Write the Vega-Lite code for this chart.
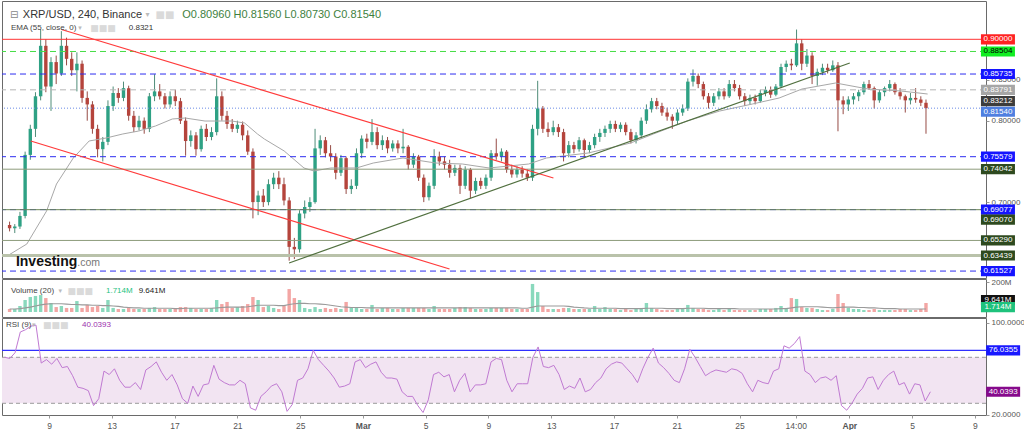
{
"$schema":"https://vega.github.io/schema/vega-lite/v6.json",
"padding":0,
"background":"#ffffff",
"spacing":1,
"bounds":"flush",
"config":{"view":{"stroke":"#6a6a6a","strokeWidth":1},"axis":{"grid":false,"domain":false,"labelFont":"Liberation Sans","labelFontSize":8,"labelColor":"#555555","tickColor":"#999999","tickSize":3,"labelPadding":2,"labelOverlap":false,"labelBound":false,"labelFlush":false},"text":{"font":"Liberation Sans"}},
"datasets":{
"c":[
{"t":"2022-02-06T04:00","o":0.672,"h":0.676,"l":0.664,"c":0.668,"v":20,"vm":20,"r":70},
{"t":"2022-02-06T12:00","o":0.668,"h":0.673,"l":0.662,"c":0.670,"v":20,"vm":20,"r":69},
{"t":"2022-02-06T20:00","o":0.670,"h":0.688,"l":0.667,"c":0.683,"v":40,"vm":22,"r":74},
{"t":"2022-02-07T04:00","o":0.683,"h":0.762,"l":0.680,"c":0.758,"v":80,"vm":27,"r":92},
{"t":"2022-02-07T12:00","o":0.758,"h":0.795,"l":0.752,"c":0.790,"v":100,"vm":33,"r":94},
{"t":"2022-02-07T20:00","o":0.790,"h":0.835,"l":0.780,"c":0.830,"v":107,"vm":40,"r":97},
{"t":"2022-02-08T04:00","o":0.830,"h":0.912,"l":0.825,"c":0.892,"v":113,"vm":47,"r":98},
{"t":"2022-02-08T12:00","o":0.892,"h":0.900,"l":0.835,"c":0.842,"v":93,"vm":53,"r":65},
{"t":"2022-02-08T20:00","o":0.842,"h":0.878,"l":0.812,"c":0.872,"v":60,"vm":55,"r":68},
{"t":"2022-02-09T04:00","o":0.872,"h":0.880,"l":0.845,"c":0.858,"v":33,"vm":55,"r":64},
{"t":"2022-02-09T12:00","o":0.858,"h":0.910,"l":0.855,"c":0.892,"v":40,"vm":55,"r":69},
{"t":"2022-02-09T20:00","o":0.892,"h":0.902,"l":0.868,"c":0.876,"v":27,"vm":53,"r":61},
{"t":"2022-02-10T04:00","o":0.876,"h":0.884,"l":0.855,"c":0.862,"v":27,"vm":50,"r":62},
{"t":"2022-02-10T12:00","o":0.862,"h":0.884,"l":0.836,"c":0.870,"v":73,"vm":50,"r":54},
{"t":"2022-02-10T20:00","o":0.870,"h":0.874,"l":0.822,"c":0.828,"v":27,"vm":48,"r":44},
{"t":"2022-02-11T04:00","o":0.828,"h":0.836,"l":0.800,"c":0.820,"v":47,"vm":47,"r":43},
{"t":"2022-02-11T12:00","o":0.820,"h":0.824,"l":0.784,"c":0.790,"v":33,"vm":45,"r":41},
{"t":"2022-02-11T20:00","o":0.790,"h":0.795,"l":0.755,"c":0.765,"v":40,"vm":45,"r":28},
{"t":"2022-02-12T04:00","o":0.765,"h":0.780,"l":0.750,"c":0.774,"v":27,"vm":43,"r":34},
{"t":"2022-02-12T12:00","o":0.774,"h":0.825,"l":0.770,"c":0.818,"v":80,"vm":43,"r":58},
{"t":"2022-02-12T20:00","o":0.818,"h":0.842,"l":0.812,"c":0.834,"v":27,"vm":40,"r":55},
{"t":"2022-02-13T04:00","o":0.834,"h":0.840,"l":0.822,"c":0.828,"v":20,"vm":37,"r":60},
{"t":"2022-02-13T12:00","o":0.828,"h":0.848,"l":0.824,"c":0.840,"v":20,"vm":33,"r":50},
{"t":"2022-02-13T20:00","o":0.840,"h":0.843,"l":0.800,"c":0.806,"v":27,"vm":30,"r":44},
{"t":"2022-02-14T04:00","o":0.806,"h":0.812,"l":0.786,"c":0.792,"v":20,"vm":27,"r":44},
{"t":"2022-02-14T12:00","o":0.792,"h":0.806,"l":0.788,"c":0.800,"v":20,"vm":27,"r":48},
{"t":"2022-02-14T20:00","o":0.800,"h":0.804,"l":0.784,"c":0.790,"v":20,"vm":25,"r":42},
{"t":"2022-02-15T04:00","o":0.790,"h":0.834,"l":0.786,"c":0.830,"v":27,"vm":25,"r":59},
{"t":"2022-02-15T12:00","o":0.830,"h":0.857,"l":0.824,"c":0.836,"v":33,"vm":25,"r":62},
{"t":"2022-02-15T20:00","o":0.836,"h":0.845,"l":0.826,"c":0.830,"v":20,"vm":25,"r":66},
{"t":"2022-02-16T04:00","o":0.830,"h":0.834,"l":0.815,"c":0.820,"v":20,"vm":25,"r":57},
{"t":"2022-02-16T12:00","o":0.820,"h":0.836,"l":0.816,"c":0.830,"v":20,"vm":25,"r":50},
{"t":"2022-02-16T20:00","o":0.830,"h":0.838,"l":0.818,"c":0.824,"v":20,"vm":23,"r":55},
{"t":"2022-02-17T04:00","o":0.824,"h":0.828,"l":0.796,"c":0.800,"v":33,"vm":23,"r":46},
{"t":"2022-02-17T12:00","o":0.800,"h":0.804,"l":0.757,"c":0.775,"v":33,"vm":25,"r":34},
{"t":"2022-02-17T20:00","o":0.775,"h":0.788,"l":0.768,"c":0.782,"v":27,"vm":25,"r":30},
{"t":"2022-02-18T04:00","o":0.782,"h":0.786,"l":0.757,"c":0.765,"v":20,"vm":25,"r":45},
{"t":"2022-02-18T12:00","o":0.765,"h":0.794,"l":0.762,"c":0.790,"v":20,"vm":25,"r":36},
{"t":"2022-02-18T20:00","o":0.790,"h":0.796,"l":0.775,"c":0.780,"v":20,"vm":25,"r":46},
{"t":"2022-02-19T04:00","o":0.780,"h":0.792,"l":0.776,"c":0.786,"v":27,"vm":25,"r":47},
{"t":"2022-02-19T12:00","o":0.786,"h":0.852,"l":0.782,"c":0.830,"v":80,"vm":27,"r":63},
{"t":"2022-02-19T20:00","o":0.830,"h":0.836,"l":0.800,"c":0.806,"v":53,"vm":30,"r":51},
{"t":"2022-02-20T04:00","o":0.806,"h":0.812,"l":0.790,"c":0.796,"v":67,"vm":33,"r":48},
{"t":"2022-02-20T12:00","o":0.796,"h":0.802,"l":0.786,"c":0.790,"v":27,"vm":33,"r":46},
{"t":"2022-02-20T20:00","o":0.790,"h":0.800,"l":0.785,"c":0.795,"v":33,"vm":33,"r":46},
{"t":"2022-02-21T04:00","o":0.795,"h":0.799,"l":0.776,"c":0.782,"v":40,"vm":33,"r":50},
{"t":"2022-02-21T12:00","o":0.782,"h":0.788,"l":0.758,"c":0.762,"v":53,"vm":35,"r":47},
{"t":"2022-02-21T20:00","o":0.762,"h":0.766,"l":0.680,"c":0.700,"v":100,"vm":40,"r":26},
{"t":"2022-02-22T04:00","o":0.700,"h":0.714,"l":0.684,"c":0.708,"v":80,"vm":45,"r":24},
{"t":"2022-02-22T12:00","o":0.708,"h":0.716,"l":0.694,"c":0.700,"v":33,"vm":45,"r":36},
{"t":"2022-02-22T20:00","o":0.700,"h":0.728,"l":0.696,"c":0.722,"v":40,"vm":45,"r":40},
{"t":"2022-02-23T04:00","o":0.722,"h":0.736,"l":0.716,"c":0.730,"v":27,"vm":45,"r":45},
{"t":"2022-02-23T12:00","o":0.730,"h":0.738,"l":0.716,"c":0.722,"v":20,"vm":43,"r":47},
{"t":"2022-02-23T20:00","o":0.722,"h":0.730,"l":0.696,"c":0.702,"v":40,"vm":43,"r":40},
{"t":"2022-02-24T04:00","o":0.702,"h":0.706,"l":0.628,"c":0.645,"v":153,"vm":50,"r":23},
{"t":"2022-02-24T12:00","o":0.645,"h":0.656,"l":0.630,"c":0.642,"v":93,"vm":55,"r":29},
{"t":"2022-02-24T20:00","o":0.642,"h":0.690,"l":0.638,"c":0.686,"v":80,"vm":57,"r":50},
{"t":"2022-02-25T04:00","o":0.686,"h":0.702,"l":0.680,"c":0.694,"v":27,"vm":57,"r":52},
{"t":"2022-02-25T12:00","o":0.694,"h":0.706,"l":0.688,"c":0.700,"v":20,"vm":55,"r":60},
{"t":"2022-02-25T20:00","o":0.700,"h":0.790,"l":0.698,"c":0.766,"v":33,"vm":55,"r":76},
{"t":"2022-02-26T04:00","o":0.766,"h":0.782,"l":0.758,"c":0.776,"v":20,"vm":53,"r":68},
{"t":"2022-02-26T12:00","o":0.776,"h":0.780,"l":0.755,"c":0.760,"v":27,"vm":50,"r":63},
{"t":"2022-02-26T20:00","o":0.760,"h":0.770,"l":0.750,"c":0.756,"v":20,"vm":45,"r":58},
{"t":"2022-02-27T04:00","o":0.756,"h":0.760,"l":0.728,"c":0.736,"v":27,"vm":40,"r":52},
{"t":"2022-02-27T12:00","o":0.736,"h":0.758,"l":0.732,"c":0.754,"v":20,"vm":35,"r":44},
{"t":"2022-02-27T20:00","o":0.754,"h":0.756,"l":0.710,"c":0.716,"v":67,"vm":33,"r":45},
{"t":"2022-02-28T04:00","o":0.716,"h":0.728,"l":0.710,"c":0.720,"v":27,"vm":30,"r":47},
{"t":"2022-02-28T12:00","o":0.720,"h":0.766,"l":0.716,"c":0.760,"v":33,"vm":30,"r":66},
{"t":"2022-02-28T20:00","o":0.760,"h":0.782,"l":0.754,"c":0.778,"v":20,"vm":30,"r":68},
{"t":"2022-03-01T04:00","o":0.778,"h":0.784,"l":0.766,"c":0.774,"v":20,"vm":28,"r":61},
{"t":"2022-03-01T12:00","o":0.774,"h":0.802,"l":0.770,"c":0.786,"v":47,"vm":28,"r":64},
{"t":"2022-03-01T20:00","o":0.786,"h":0.792,"l":0.765,"c":0.770,"v":20,"vm":28,"r":66},
{"t":"2022-03-02T04:00","o":0.770,"h":0.782,"l":0.764,"c":0.776,"v":27,"vm":27,"r":57},
{"t":"2022-03-02T12:00","o":0.776,"h":0.780,"l":0.760,"c":0.766,"v":27,"vm":27,"r":52},
{"t":"2022-03-02T20:00","o":0.766,"h":0.776,"l":0.762,"c":0.772,"v":20,"vm":27,"r":52},
{"t":"2022-03-03T04:00","o":0.772,"h":0.776,"l":0.760,"c":0.766,"v":20,"vm":27,"r":51},
{"t":"2022-03-03T12:00","o":0.766,"h":0.790,"l":0.760,"c":0.768,"v":27,"vm":27,"r":40},
{"t":"2022-03-03T20:00","o":0.768,"h":0.770,"l":0.740,"c":0.746,"v":27,"vm":27,"r":36},
{"t":"2022-03-04T04:00","o":0.746,"h":0.760,"l":0.742,"c":0.756,"v":27,"vm":27,"r":36},
{"t":"2022-03-04T12:00","o":0.756,"h":0.758,"l":0.726,"c":0.730,"v":27,"vm":27,"r":28},
{"t":"2022-03-04T20:00","o":0.730,"h":0.734,"l":0.700,"c":0.706,"v":27,"vm":27,"r":22},
{"t":"2022-03-05T04:00","o":0.706,"h":0.724,"l":0.702,"c":0.720,"v":20,"vm":27,"r":33},
{"t":"2022-03-05T12:00","o":0.720,"h":0.765,"l":0.716,"c":0.756,"v":40,"vm":27,"r":55},
{"t":"2022-03-05T20:00","o":0.756,"h":0.762,"l":0.745,"c":0.750,"v":20,"vm":27,"r":57},
{"t":"2022-03-06T04:00","o":0.750,"h":0.756,"l":0.740,"c":0.746,"v":20,"vm":27,"r":53},
{"t":"2022-03-06T12:00","o":0.746,"h":0.752,"l":0.730,"c":0.736,"v":20,"vm":27,"r":55},
{"t":"2022-03-06T20:00","o":0.736,"h":0.746,"l":0.732,"c":0.742,"v":27,"vm":27,"r":40},
{"t":"2022-03-07T04:00","o":0.742,"h":0.746,"l":0.710,"c":0.720,"v":33,"vm":27,"r":50},
{"t":"2022-03-07T12:00","o":0.720,"h":0.744,"l":0.716,"c":0.740,"v":33,"vm":27,"r":56},
{"t":"2022-03-07T20:00","o":0.740,"h":0.742,"l":0.705,"c":0.714,"v":27,"vm":27,"r":40},
{"t":"2022-03-08T04:00","o":0.714,"h":0.730,"l":0.710,"c":0.726,"v":20,"vm":27,"r":46},
{"t":"2022-03-08T12:00","o":0.726,"h":0.730,"l":0.716,"c":0.720,"v":20,"vm":27,"r":46},
{"t":"2022-03-08T20:00","o":0.720,"h":0.734,"l":0.716,"c":0.730,"v":20,"vm":27,"r":47},
{"t":"2022-03-09T04:00","o":0.730,"h":0.764,"l":0.726,"c":0.760,"v":27,"vm":27,"r":66},
{"t":"2022-03-09T12:00","o":0.760,"h":0.778,"l":0.752,"c":0.756,"v":27,"vm":27,"r":69},
{"t":"2022-03-09T20:00","o":0.756,"h":0.766,"l":0.750,"c":0.762,"v":27,"vm":27,"r":68},
{"t":"2022-03-10T04:00","o":0.762,"h":0.764,"l":0.736,"c":0.740,"v":27,"vm":27,"r":50},
{"t":"2022-03-10T12:00","o":0.740,"h":0.746,"l":0.730,"c":0.734,"v":20,"vm":27,"r":40},
{"t":"2022-03-10T20:00","o":0.734,"h":0.744,"l":0.730,"c":0.740,"v":20,"vm":27,"r":47},
{"t":"2022-03-11T04:00","o":0.740,"h":0.744,"l":0.730,"c":0.735,"v":20,"vm":25,"r":47},
{"t":"2022-03-11T12:00","o":0.735,"h":0.740,"l":0.726,"c":0.730,"v":20,"vm":25,"r":47},
{"t":"2022-03-11T20:00","o":0.730,"h":0.795,"l":0.726,"c":0.790,"v":187,"vm":33,"r":70},
{"t":"2022-03-12T04:00","o":0.790,"h":0.849,"l":0.782,"c":0.815,"v":133,"vm":40,"r":79},
{"t":"2022-03-12T12:00","o":0.815,"h":0.818,"l":0.785,"c":0.790,"v":40,"vm":40,"r":62},
{"t":"2022-03-12T20:00","o":0.790,"h":0.798,"l":0.780,"c":0.786,"v":20,"vm":40,"r":61},
{"t":"2022-03-13T04:00","o":0.786,"h":0.800,"l":0.782,"c":0.792,"v":20,"vm":40,"r":63},
{"t":"2022-03-13T12:00","o":0.792,"h":0.796,"l":0.780,"c":0.786,"v":20,"vm":40,"r":55},
{"t":"2022-03-13T20:00","o":0.786,"h":0.790,"l":0.750,"c":0.760,"v":27,"vm":40,"r":42},
{"t":"2022-03-14T04:00","o":0.760,"h":0.775,"l":0.755,"c":0.770,"v":27,"vm":37,"r":45},
{"t":"2022-03-14T12:00","o":0.770,"h":0.774,"l":0.760,"c":0.765,"v":20,"vm":33,"r":43},
{"t":"2022-03-14T20:00","o":0.765,"h":0.780,"l":0.762,"c":0.776,"v":20,"vm":30,"r":52},
{"t":"2022-03-15T04:00","o":0.776,"h":0.778,"l":0.755,"c":0.764,"v":20,"vm":27,"r":40},
{"t":"2022-03-15T12:00","o":0.764,"h":0.774,"l":0.760,"c":0.770,"v":20,"vm":25,"r":42},
{"t":"2022-03-15T20:00","o":0.770,"h":0.784,"l":0.766,"c":0.780,"v":40,"vm":25,"r":48},
{"t":"2022-03-16T04:00","o":0.780,"h":0.790,"l":0.774,"c":0.785,"v":20,"vm":25,"r":52},
{"t":"2022-03-16T12:00","o":0.785,"h":0.794,"l":0.780,"c":0.790,"v":33,"vm":25,"r":60},
{"t":"2022-03-16T20:00","o":0.790,"h":0.800,"l":0.785,"c":0.796,"v":20,"vm":25,"r":64},
{"t":"2022-03-17T04:00","o":0.796,"h":0.800,"l":0.786,"c":0.790,"v":20,"vm":25,"r":66},
{"t":"2022-03-17T12:00","o":0.790,"h":0.798,"l":0.786,"c":0.795,"v":13,"vm":23,"r":65},
{"t":"2022-03-17T20:00","o":0.795,"h":0.798,"l":0.782,"c":0.786,"v":20,"vm":23,"r":60},
{"t":"2022-03-18T04:00","o":0.786,"h":0.790,"l":0.772,"c":0.776,"v":13,"vm":23,"r":55},
{"t":"2022-03-18T12:00","o":0.776,"h":0.786,"l":0.772,"c":0.782,"v":20,"vm":23,"r":48},
{"t":"2022-03-18T20:00","o":0.782,"h":0.804,"l":0.778,"c":0.800,"v":27,"vm":23,"r":60},
{"t":"2022-03-19T04:00","o":0.800,"h":0.820,"l":0.796,"c":0.814,"v":60,"vm":25,"r":70},
{"t":"2022-03-19T12:00","o":0.814,"h":0.828,"l":0.810,"c":0.824,"v":27,"vm":25,"r":78},
{"t":"2022-03-19T20:00","o":0.824,"h":0.828,"l":0.814,"c":0.818,"v":20,"vm":25,"r":65},
{"t":"2022-03-20T04:00","o":0.818,"h":0.822,"l":0.806,"c":0.810,"v":13,"vm":25,"r":61},
{"t":"2022-03-20T12:00","o":0.810,"h":0.816,"l":0.800,"c":0.805,"v":13,"vm":23,"r":56},
{"t":"2022-03-20T20:00","o":0.805,"h":0.808,"l":0.790,"c":0.800,"v":13,"vm":23,"r":50},
{"t":"2022-03-21T04:00","o":0.800,"h":0.814,"l":0.796,"c":0.810,"v":20,"vm":23,"r":48},
{"t":"2022-03-21T12:00","o":0.810,"h":0.820,"l":0.806,"c":0.815,"v":20,"vm":23,"r":60},
{"t":"2022-03-21T20:00","o":0.815,"h":0.852,"l":0.812,"c":0.848,"v":47,"vm":25,"r":77},
{"t":"2022-03-22T04:00","o":0.848,"h":0.863,"l":0.842,"c":0.855,"v":27,"vm":25,"r":70},
{"t":"2022-03-22T12:00","o":0.855,"h":0.858,"l":0.840,"c":0.845,"v":20,"vm":25,"r":62},
{"t":"2022-03-22T20:00","o":0.845,"h":0.848,"l":0.826,"c":0.830,"v":20,"vm":25,"r":54},
{"t":"2022-03-23T04:00","o":0.830,"h":0.834,"l":0.815,"c":0.822,"v":13,"vm":23,"r":57},
{"t":"2022-03-23T12:00","o":0.822,"h":0.834,"l":0.818,"c":0.830,"v":13,"vm":23,"r":59},
{"t":"2022-03-23T20:00","o":0.830,"h":0.840,"l":0.826,"c":0.836,"v":20,"vm":23,"r":58},
{"t":"2022-03-24T04:00","o":0.836,"h":0.840,"l":0.826,"c":0.830,"v":13,"vm":22,"r":57},
{"t":"2022-03-24T12:00","o":0.830,"h":0.850,"l":0.828,"c":0.845,"v":20,"vm":22,"r":60},
{"t":"2022-03-24T20:00","o":0.845,"h":0.850,"l":0.836,"c":0.840,"v":13,"vm":22,"r":59},
{"t":"2022-03-25T04:00","o":0.840,"h":0.844,"l":0.826,"c":0.830,"v":13,"vm":20,"r":56},
{"t":"2022-03-25T12:00","o":0.830,"h":0.834,"l":0.818,"c":0.824,"v":13,"vm":20,"r":47},
{"t":"2022-03-25T20:00","o":0.824,"h":0.832,"l":0.820,"c":0.828,"v":13,"vm":20,"r":40},
{"t":"2022-03-26T04:00","o":0.828,"h":0.832,"l":0.820,"c":0.824,"v":13,"vm":20,"r":50},
{"t":"2022-03-26T12:00","o":0.824,"h":0.838,"l":0.822,"c":0.834,"v":20,"vm":20,"r":48},
{"t":"2022-03-26T20:00","o":0.834,"h":0.842,"l":0.830,"c":0.838,"v":20,"vm":20,"r":47},
{"t":"2022-03-27T04:00","o":0.838,"h":0.842,"l":0.828,"c":0.832,"v":20,"vm":20,"r":58},
{"t":"2022-03-27T12:00","o":0.832,"h":0.845,"l":0.830,"c":0.842,"v":27,"vm":20,"r":60},
{"t":"2022-03-27T20:00","o":0.842,"h":0.870,"l":0.840,"c":0.866,"v":40,"vm":22,"r":80},
{"t":"2022-03-28T04:00","o":0.866,"h":0.874,"l":0.860,"c":0.870,"v":27,"vm":23,"r":78},
{"t":"2022-03-28T12:00","o":0.870,"h":0.876,"l":0.862,"c":0.868,"v":93,"vm":27,"r":82},
{"t":"2022-03-28T20:00","o":0.868,"h":0.912,"l":0.866,"c":0.895,"v":87,"vm":33,"r":88},
{"t":"2022-03-29T04:00","o":0.895,"h":0.900,"l":0.862,"c":0.870,"v":33,"vm":35,"r":58},
{"t":"2022-03-29T12:00","o":0.870,"h":0.888,"l":0.866,"c":0.880,"v":27,"vm":35,"r":55},
{"t":"2022-03-29T20:00","o":0.880,"h":0.884,"l":0.845,"c":0.855,"v":27,"vm":35,"r":48},
{"t":"2022-03-30T04:00","o":0.855,"h":0.864,"l":0.843,"c":0.860,"v":20,"vm":35,"r":52},
{"t":"2022-03-30T12:00","o":0.860,"h":0.870,"l":0.856,"c":0.865,"v":13,"vm":33,"r":53},
{"t":"2022-03-30T20:00","o":0.865,"h":0.870,"l":0.858,"c":0.862,"v":13,"vm":30,"r":50},
{"t":"2022-03-31T04:00","o":0.862,"h":0.874,"l":0.860,"c":0.868,"v":20,"vm":27,"r":54},
{"t":"2022-03-31T12:00","o":0.868,"h":0.872,"l":0.787,"c":0.825,"v":120,"vm":30,"r":28},
{"t":"2022-03-31T20:00","o":0.825,"h":0.830,"l":0.808,"c":0.820,"v":60,"vm":33,"r":24},
{"t":"2022-04-01T04:00","o":0.820,"h":0.830,"l":0.812,"c":0.826,"v":27,"vm":33,"r":30},
{"t":"2022-04-01T12:00","o":0.826,"h":0.834,"l":0.820,"c":0.830,"v":20,"vm":33,"r":38},
{"t":"2022-04-01T20:00","o":0.830,"h":0.838,"l":0.824,"c":0.835,"v":20,"vm":30,"r":43},
{"t":"2022-04-02T04:00","o":0.835,"h":0.848,"l":0.832,"c":0.845,"v":13,"vm":30,"r":52},
{"t":"2022-04-02T12:00","o":0.845,"h":0.850,"l":0.838,"c":0.840,"v":13,"vm":28,"r":53},
{"t":"2022-04-02T20:00","o":0.840,"h":0.842,"l":0.815,"c":0.825,"v":20,"vm":27,"r":42},
{"t":"2022-04-03T04:00","o":0.825,"h":0.838,"l":0.822,"c":0.835,"v":13,"vm":25,"r":50},
{"t":"2022-04-03T12:00","o":0.835,"h":0.842,"l":0.830,"c":0.840,"v":13,"vm":23,"r":55},
{"t":"2022-04-03T20:00","o":0.840,"h":0.850,"l":0.836,"c":0.845,"v":13,"vm":22,"r":58},
{"t":"2022-04-04T04:00","o":0.845,"h":0.847,"l":0.832,"c":0.835,"v":13,"vm":22,"r":46},
{"t":"2022-04-04T12:00","o":0.835,"h":0.840,"l":0.826,"c":0.830,"v":20,"vm":20,"r":48},
{"t":"2022-04-04T20:00","o":0.830,"h":0.832,"l":0.810,"c":0.825,"v":20,"vm":20,"r":38},
{"t":"2022-04-05T04:00","o":0.825,"h":0.834,"l":0.820,"c":0.828,"v":13,"vm":20,"r":47},
{"t":"2022-04-05T12:00","o":0.828,"h":0.840,"l":0.822,"c":0.826,"v":13,"vm":20,"r":46},
{"t":"2022-04-05T20:00","o":0.826,"h":0.830,"l":0.818,"c":0.822,"v":20,"vm":20,"r":32},
{"t":"2022-04-06T04:00","o":0.822,"h":0.826,"l":0.784,"c":0.8154,"v":60,"vm":20,"r":40.0393}
],
"ema":[
{"t":"2022-02-06T00:00","p":0.6337},{"t":"2022-02-07T06:36","p":0.6485},{"t":"2022-02-08T13:11","p":0.6891},{"t":"2022-02-09T04:29","p":0.7222},{"t":"2022-02-10T06:29","p":0.7542},{"t":"2022-02-11T06:58","p":0.7751},{"t":"2022-02-12T08:57","p":0.7787},{"t":"2022-02-13T10:58","p":0.7837},{"t":"2022-02-14T11:27","p":0.7873},{"t":"2022-02-15T13:27","p":0.7935},{"t":"2022-02-16T15:27","p":0.8021},{"t":"2022-02-17T11:20","p":0.8033},{"t":"2022-02-18T17:56","p":0.7996},{"t":"2022-02-20T11:14","p":0.7996},{"t":"2022-02-21T07:06","p":0.7972},{"t":"2022-02-22T03:00","p":0.7837},{"t":"2022-02-22T13:42","p":0.7775},{"t":"2022-02-23T20:18","p":0.7628},{"t":"2022-02-25T02:53","p":0.7419},{"t":"2022-02-25T18:11","p":0.7382},{"t":"2022-02-26T20:11","p":0.7419},{"t":"2022-02-28T11:57","p":0.7419},{"t":"2022-03-01T13:58","p":0.748},{"t":"2022-03-03T11:51","p":0.7542},{"t":"2022-03-05T14:20","p":0.748},{"t":"2022-03-07T07:38","p":0.7468},{"t":"2022-03-09T00:56","p":0.7419},{"t":"2022-03-11T14:07","p":0.7468},{"t":"2022-03-12T17:38","p":0.7542},{"t":"2022-03-15T09:53","p":0.7603},{"t":"2022-03-18T03:40","p":0.7726},{"t":"2022-03-19T14:51","p":0.7837},{"t":"2022-03-21T18:52","p":0.7996},{"t":"2022-03-23T21:20","p":0.8119},{"t":"2022-03-25T23:48","p":0.8205},{"t":"2022-03-27T17:07","p":0.8279},{"t":"2022-03-29T04:18","p":0.8389},{"t":"2022-03-31T08:18","p":0.8463},{"t":"2022-04-02T10:47","p":0.8389},{"t":"2022-04-04T13:15","p":0.8365},{"t":"2022-04-06T06:33","p":0.8328}
],
"lv":[
{"v":0.9,"k":"red"},{"v":0.88504,"k":"lime"},{"v":0.85735,"k":"blue"},{"v":0.83791,"k":"gray"},{"v":0.83212,"k":"ema"},{"v":0.8154,"k":"price"},{"v":0.75579,"k":"blue"},{"v":0.74042,"k":"olive"},{"v":0.69077,"k":"blue"},{"v":0.6907,"k":"olivedk"},{"v":0.6529,"k":"olive"},{"v":0.63439,"k":"olivelt"},{"v":0.61527,"k":"blue"}
],
"tr":[
{"g":"a","t":"2022-02-09T12:07","p":0.912},{"g":"a","t":"2022-03-13T04:20","p":0.7296},
{"g":"b","t":"2022-02-07T12:43","p":0.7751},{"g":"b","t":"2022-03-06T11:46","p":0.6178},
{"g":"c","t":"2022-02-24T03:53","p":0.6252},{"g":"c","t":"2022-04-01T06:14","p":0.8709}
]
},
"vconcat":[
{
"width":984,"height":277,
"resolve":{"scale":{"color":"independent","strokeDash":"independent"}},
"layer":[
{"data":{"name":"c"},"mark":{"type":"rule","strokeWidth":1},
"encoding":{
"x":{"field":"t","type":"temporal","title":null,"scale":{"domain":[{"year":2022,"month":2,"date":6},{"year":2022,"month":4,"date":9,"hours":17}]},"axis":null},
"y":{"field":"l","type":"quantitative","title":null,"scale":{"domain":[0.60676,0.94705],"nice":false,"zero":false},"axis":{"orient":"right","values":[0.7,0.8,0.85],"format":".5f","title":null}},
"y2":{"field":"h"},
"color":{"condition":{"test":"datum.c>=datum.o","value":"#4f8c78"},"value":"#964b45"}}},
{"data":{"name":"c"},"mark":{"type":"bar","width":3.4},
"encoding":{"x":{"field":"t","type":"temporal","title":null},"y":{"field":"o","type":"quantitative","title":null},"y2":{"field":"c"},
"color":{"condition":{"test":"datum.c>=datum.o","value":"#2ea184"},"value":"#b5443c"}}},
{"data":{"name":"ema"},"mark":{"type":"line","color":"#a8a8a8","strokeWidth":1},"encoding":{"x":{"field":"t","type":"temporal","title":null},"y":{"field":"p","type":"quantitative","title":null}}},
{"data":{"name":"lv"},"transform":[{"filter":"datum.k!='ema' && datum.k!='olivelt'"}],"mark":{"type":"rule","strokeWidth":1},
"encoding":{"y":{"field":"v","type":"quantitative","title":null},
"color":{"field":"k","type":"nominal","legend":null,"scale":{"domain":["red","lime","blue","gray","price","olive","olivedk"],"range":["#ff3333","#44dd44","#2d2df0","#b5b5b5","#6a8ae6","#8d9c7c","#6d8858"]}},
"strokeDash":{"field":"k","type":"nominal","legend":null,"scale":{"domain":["red","lime","blue","gray","price","olive","olivedk"],"range":[[1,0],[6,4],[6,4],[6,4],[1,2],[1,0],[1,0]]}}}},
{"data":{"name":"lv"},"transform":[{"filter":"datum.k=='olivelt'"}],"mark":{"type":"rule","strokeWidth":3,"color":"#b9c2aa"},"encoding":{"y":{"field":"v","type":"quantitative","title":null}}},
{"data":{"name":"tr"},"transform":[{"filter":"datum.g!='c'"}],"mark":{"type":"line","color":"#ff3b3b","strokeWidth":1.2},"encoding":{"x":{"field":"t","type":"temporal","title":null},"y":{"field":"p","type":"quantitative","title":null},"detail":{"field":"g"}}},
{"data":{"name":"tr"},"transform":[{"filter":"datum.g=='c'"}],"mark":{"type":"line","color":"#51703f","strokeWidth":1.2},"encoding":{"x":{"field":"t","type":"temporal","title":null},"y":{"field":"p","type":"quantitative","title":null}}},
{"data":{"name":"lv"},"transform":[{"filter":"datum.k!='ema' && datum.k!='price' && datum.k!='olivedk'"}],"mark":{"type":"point","shape":"M-1,-0.3H1V0.3H-1Z","size":1156,"filled":true,"opacity":1,"strokeWidth":0},
"encoding":{"x":{"datum":{"year":2022,"month":4,"date":10,"hours":19,"minutes":12},"type":"temporal"},"y":{"field":"v","type":"quantitative","title":null},
"color":{"field":"k","type":"nominal","legend":null,"scale":{"domain":["red","lime","blue","gray","olive","olivelt"],"range":["#ff2222","#11ee22","#1414ff","#a6a6a6","#2e4a1f","#2e4a1f"]}}}},
{"data":{"name":"lv"},"transform":[{"filter":"datum.k!='ema' && datum.k!='price' && datum.k!='olivedk'"}],"mark":{"type":"text","fontSize":8,"align":"center","baseline":"middle"},
"encoding":{"x":{"datum":{"year":2022,"month":4,"date":10,"hours":19,"minutes":12},"type":"temporal"},"y":{"field":"v","type":"quantitative","title":null},"text":{"field":"v","type":"quantitative","format":".5f"},
"color":{"field":"k","type":"nominal","legend":null,"scale":{"domain":["red","lime","blue","gray","olive","olivelt"],"range":["#ffffff","#000000","#ffffff","#ffffff","#ffffff","#ffffff"]}}}},
{"data":{"name":"lv"},"transform":[{"filter":"datum.k=='ema'"}],"mark":{"type":"point","shape":"M-1,-0.3H1V0.3H-1Z","size":1156,"filled":true,"opacity":1,"strokeWidth":0,"color":"#3c3c3c","yOffset":6.5},
"encoding":{"x":{"datum":{"year":2022,"month":4,"date":10,"hours":19,"minutes":12},"type":"temporal"},"y":{"field":"v","type":"quantitative","title":null}}},
{"data":{"name":"lv"},"transform":[{"filter":"datum.k=='ema'"}],"mark":{"type":"text","fontSize":8,"align":"center","baseline":"middle","color":"#ffffff","yOffset":6.5},
"encoding":{"x":{"datum":{"year":2022,"month":4,"date":10,"hours":19,"minutes":12},"type":"temporal"},"y":{"field":"v","type":"quantitative","title":null},"text":{"field":"v","type":"quantitative","format":".5f"}}},
{"data":{"name":"lv"},"transform":[{"filter":"datum.k=='price'"}],"mark":{"type":"point","shape":"M-1,-0.3H1V0.3H-1Z","size":1156,"filled":true,"opacity":1,"strokeWidth":0,"color":"#4f7fe0","yOffset":3.6},
"encoding":{"x":{"datum":{"year":2022,"month":4,"date":10,"hours":19,"minutes":12},"type":"temporal"},"y":{"field":"v","type":"quantitative","title":null}}},
{"data":{"name":"lv"},"transform":[{"filter":"datum.k=='price'"}],"mark":{"type":"text","fontSize":8,"align":"center","baseline":"middle","color":"#ffffff","yOffset":3.6},
"encoding":{"x":{"datum":{"year":2022,"month":4,"date":10,"hours":19,"minutes":12},"type":"temporal"},"y":{"field":"v","type":"quantitative","title":null},"text":{"field":"v","type":"quantitative","format":".5f"}}},
{"data":{"name":"lv"},"transform":[{"filter":"datum.k=='olivedk'"}],"mark":{"type":"point","shape":"M-1,-0.3H1V0.3H-1Z","size":1156,"filled":true,"opacity":1,"strokeWidth":0,"color":"#2e4a1f","yOffset":10},
"encoding":{"x":{"datum":{"year":2022,"month":4,"date":10,"hours":19,"minutes":12},"type":"temporal"},"y":{"field":"v","type":"quantitative","title":null}}},
{"data":{"name":"lv"},"transform":[{"filter":"datum.k=='olivedk'"}],"mark":{"type":"text","fontSize":8,"align":"center","baseline":"middle","color":"#ffffff","yOffset":10},
"encoding":{"x":{"datum":{"year":2022,"month":4,"date":10,"hours":19,"minutes":12},"type":"temporal"},"y":{"field":"v","type":"quantitative","title":null},"text":{"field":"v","type":"quantitative","format":".5f"}}},
{"data":{"values":[{}]},"mark":{"type":"text","align":"left","baseline":"middle","font":"DejaVu Sans","fontSize":10,"color":"#888888"},"encoding":{"x":{"datum":{"year":2022,"month":2,"date":6,"hours":4,"minutes":35},"type":"temporal"},"y":{"datum":0.92985,"type":"quantitative"},"text":{"value":"⊟"}}},
{"data":{"values":[{}]},"mark":{"type":"text","align":"left","baseline":"middle","fontSize":11,"color":"#333333"},"encoding":{"x":{"datum":{"year":2022,"month":2,"date":7,"hours":0,"minutes":28},"type":"temporal"},"y":{"datum":0.92985,"type":"quantitative"},"text":{"value":"XRP/USD, 240, Binance"}}},
{"data":{"values":[{}]},"mark":{"type":"text","align":"left","baseline":"middle","font":"DejaVu Sans","fontSize":8,"color":"#bbbbbb"},"encoding":{"x":{"datum":{"year":2022,"month":2,"date":14,"hours":22,"minutes":9},"type":"temporal"},"y":{"datum":0.92985,"type":"quantitative"},"text":{"value":"▾"}}},
{"data":{"values":[{}]},"mark":{"type":"text","align":"left","baseline":"middle","font":"DejaVu Sans","fontSize":10,"color":"#dadada"},"encoding":{"x":{"datum":{"year":2022,"month":2,"date":15,"hours":13,"minutes":26},"type":"temporal"},"y":{"datum":0.92985,"type":"quantitative"},"text":{"value":"■■"}}},
{"data":{"values":[{}]},"mark":{"type":"text","align":"left","baseline":"middle","fontSize":11,"color":"#3e7f3e"},"encoding":{"x":{"datum":{"year":2022,"month":2,"date":17,"hours":6,"minutes":45},"type":"temporal"},"y":{"datum":0.92985,"type":"quantitative"},"text":{"value":"O0.80960 H0.81560 L0.80730 C0.81540"}}},
{"data":{"values":[{}]},"mark":{"type":"text","align":"left","baseline":"middle","fontSize":8,"color":"#444444"},"encoding":{"x":{"datum":{"year":2022,"month":2,"date":6,"hours":6,"minutes":7},"type":"temporal"},"y":{"datum":0.91327,"type":"quantitative"},"text":{"value":"EMA (55, close, 0)"}}},
{"data":{"values":[{}]},"mark":{"type":"text","align":"left","baseline":"middle","font":"DejaVu Sans","fontSize":7,"color":"#bbbbbb"},"encoding":{"x":{"datum":{"year":2022,"month":2,"date":10,"hours":14,"minutes":8},"type":"temporal"},"y":{"datum":0.91327,"type":"quantitative"},"text":{"value":"▾"}}},
{"data":{"values":[{}]},"mark":{"type":"text","align":"left","baseline":"middle","font":"DejaVu Sans","fontSize":9,"color":"#dadada"},"encoding":{"x":{"datum":{"year":2022,"month":2,"date":11,"hours":8,"minutes":30},"type":"temporal"},"y":{"datum":0.91327,"type":"quantitative"},"text":{"value":"■■■"}}},
{"data":{"values":[{}]},"mark":{"type":"text","align":"left","baseline":"middle","fontSize":8,"color":"#333333"},"encoding":{"x":{"datum":{"year":2022,"month":2,"date":13,"hours":20,"minutes":9},"type":"temporal"},"y":{"datum":0.91327,"type":"quantitative"},"text":{"value":"0.8321"}}},
{"data":{"values":[{}]},"mark":{"type":"text","align":"left","baseline":"alphabetic","fontSize":14,"fontWeight":"bold","color":"#111111"},"encoding":{"x":{"datum":{"year":2022,"month":2,"date":6,"hours":13,"minutes":46},"type":"temporal"},"y":{"datum":0.6215,"type":"quantitative"},"text":{"value":"Investing"}}},
{"data":{"values":[{}]},"mark":{"type":"text","align":"left","baseline":"alphabetic","fontSize":10.5,"color":"#777777"},"encoding":{"x":{"datum":{"year":2022,"month":2,"date":10,"hours":12,"minutes":36},"type":"temporal"},"y":{"datum":0.6215,"type":"quantitative"},"text":{"value":".com"}}}
]
},
{
"width":984,"height":38,
"layer":[
{"data":{"name":"c"},"mark":{"type":"bar","width":3.4},
"encoding":{"x":{"field":"t","type":"temporal","title":null,"scale":{"domain":[{"year":2022,"month":2,"date":6},{"year":2022,"month":4,"date":9,"hours":17}]},"axis":null},
"y":{"field":"v","type":"quantitative","title":null,"scale":{"domain":[-33.3,220],"nice":false,"zero":false},"axis":{"orient":"right","values":[200],"labelExpr":"'200M'","title":null}},
"y2":{"datum":0},
"color":{"condition":{"test":"datum.c>=datum.o","value":"#8ad9bd"},"value":"#f3a6a4"}}},
{"data":{"name":"c"},"mark":{"type":"line","color":"#9a9a9a","strokeWidth":1.2},"encoding":{"x":{"field":"t","type":"temporal","title":null},"y":{"field":"vm","type":"quantitative","title":null}}},
{"data":{"values":[{}]},"mark":{"type":"point","shape":"M-1,-0.3H1V0.3H-1Z","size":1156,"filled":true,"opacity":1,"strokeWidth":0,"color":"#111111"},"encoding":{"x":{"datum":{"year":2022,"month":4,"date":10,"hours":19,"minutes":12},"type":"temporal"},"y":{"datum":80,"type":"quantitative"}}},
{"data":{"values":[{}]},"mark":{"type":"text","fontSize":8,"align":"center","baseline":"middle","color":"#ffffff"},"encoding":{"x":{"datum":{"year":2022,"month":4,"date":10,"hours":19,"minutes":12},"type":"temporal"},"y":{"datum":80,"type":"quantitative"},"text":{"value":"9.641M"}}},
{"data":{"values":[{}]},"mark":{"type":"point","shape":"M-1,-0.3H1V0.3H-1Z","size":1156,"filled":true,"opacity":1,"strokeWidth":0,"color":"#1ec27c"},"encoding":{"x":{"datum":{"year":2022,"month":4,"date":10,"hours":19,"minutes":12},"type":"temporal"},"y":{"datum":33,"type":"quantitative"}}},
{"data":{"values":[{}]},"mark":{"type":"text","fontSize":8,"align":"center","baseline":"middle","color":"#ffffff"},"encoding":{"x":{"datum":{"year":2022,"month":4,"date":10,"hours":19,"minutes":12},"type":"temporal"},"y":{"datum":33,"type":"quantitative"},"text":{"value":"1.714M"}}},
{"data":{"values":[{}]},"mark":{"type":"text","align":"left","baseline":"middle","fontSize":8,"color":"#444444"},"encoding":{"x":{"datum":{"year":2022,"month":2,"date":6,"hours":6,"minutes":7},"type":"temporal"},"y":{"datum":140,"type":"quantitative"},"text":{"value":"Volume (20)"}}},
{"data":{"values":[{}]},"mark":{"type":"text","align":"left","baseline":"middle","font":"DejaVu Sans","fontSize":7,"color":"#bbbbbb"},"encoding":{"x":{"datum":{"year":2022,"month":2,"date":9,"hours":7,"minutes":32},"type":"temporal"},"y":{"datum":140,"type":"quantitative"},"text":{"value":"▾"}}},
{"data":{"values":[{}]},"mark":{"type":"text","align":"left","baseline":"middle","font":"DejaVu Sans","fontSize":9,"color":"#dadada"},"encoding":{"x":{"datum":{"year":2022,"month":2,"date":9,"hours":21,"minutes":18},"type":"temporal"},"y":{"datum":140,"type":"quantitative"},"text":{"value":"■■■"}}},
{"data":{"values":[{}]},"mark":{"type":"text","align":"left","baseline":"middle","fontSize":8,"color":"#26c281"},"encoding":{"x":{"datum":{"year":2022,"month":2,"date":12,"hours":8,"minutes":57},"type":"temporal"},"y":{"datum":140,"type":"quantitative"},"text":{"value":"1.714M"}}},
{"data":{"values":[{}]},"mark":{"type":"text","align":"left","baseline":"middle","fontSize":8,"color":"#222222"},"encoding":{"x":{"datum":{"year":2022,"month":2,"date":14,"hours":11,"minutes":27},"type":"temporal"},"y":{"datum":140,"type":"quantitative"},"text":{"value":"9.641M"}}}
]
},
{
"width":984,"height":97,
"layer":[
{"data":{"values":[{}]},"mark":{"type":"rect","color":"#f2e4f2"},
"encoding":{
"x":{"datum":{"year":2022,"month":2,"date":6},"type":"temporal","title":null,"scale":{"domain":[{"year":2022,"month":2,"date":6},{"year":2022,"month":4,"date":9,"hours":17}]},
"axis":{"orient":"bottom","title":null,"tickSize":3,"labelPadding":3,"labelFontSize":8.5,"values":[{"year":2022,"month":2,"date":9},{"year":2022,"month":2,"date":13},{"year":2022,"month":2,"date":17},{"year":2022,"month":2,"date":21},{"year":2022,"month":2,"date":25},{"year":2022,"month":3,"date":1},{"year":2022,"month":3,"date":5},{"year":2022,"month":3,"date":9},{"year":2022,"month":3,"date":13},{"year":2022,"month":3,"date":17},{"year":2022,"month":3,"date":21},{"year":2022,"month":3,"date":25},{"year":2022,"month":3,"date":28,"hours":14},{"year":2022,"month":4,"date":1},{"year":2022,"month":4,"date":5},{"year":2022,"month":4,"date":9}],
"labelExpr":"hours(datum.value)==14 ? '14:00' : (date(datum.value)==1 ? timeFormat(datum.value,'%b') : timeFormat(datum.value,'%-d'))",
"labelFontWeight":{"condition":{"test":"date(datum.value)==1 && hours(datum.value)==0","value":"bold"},"value":"normal"}}},
"x2":{"datum":{"year":2022,"month":4,"date":9,"hours":17}},
"y":{"datum":70,"type":"quantitative","title":null,"scale":{"domain":[19.83,104.17],"nice":false,"zero":false},"axis":{"orient":"right","values":[20,60,80,100],"format":".4f","title":null}},
"y2":{"datum":30}}},
{"data":{"values":[{}]},"mark":{"type":"rule","color":"#9a9a9a","strokeDash":[4,3]},"encoding":{"y":{"datum":70,"type":"quantitative"}}},
{"data":{"values":[{}]},"mark":{"type":"rule","color":"#9a9a9a","strokeDash":[4,3]},"encoding":{"y":{"datum":30,"type":"quantitative"}}},
{"data":{"values":[{}]},"mark":{"type":"rule","color":"#3030ff","strokeWidth":1.2},"encoding":{"y":{"datum":76.0355,"type":"quantitative"}}},
{"data":{"name":"c"},"mark":{"type":"line","color":"#c07ad2","strokeWidth":1},"encoding":{"x":{"field":"t","type":"temporal","title":null},"y":{"field":"r","type":"quantitative","title":null}}},
{"data":{"values":[{}]},"mark":{"type":"point","shape":"M-1,-0.3H1V0.3H-1Z","size":1156,"filled":true,"opacity":1,"strokeWidth":0,"color":"#1818ff"},"encoding":{"x":{"datum":{"year":2022,"month":4,"date":10,"hours":19,"minutes":12},"type":"temporal"},"y":{"datum":76.0355,"type":"quantitative"}}},
{"data":{"values":[{}]},"mark":{"type":"text","fontSize":8,"align":"center","baseline":"middle","color":"#ffffff"},"encoding":{"x":{"datum":{"year":2022,"month":4,"date":10,"hours":19,"minutes":12},"type":"temporal"},"y":{"datum":76.0355,"type":"quantitative"},"text":{"value":"76.0355"}}},
{"data":{"values":[{}]},"mark":{"type":"point","shape":"M-1,-0.3H1V0.3H-1Z","size":1156,"filled":true,"opacity":1,"strokeWidth":0,"color":"#860a8c"},"encoding":{"x":{"datum":{"year":2022,"month":4,"date":10,"hours":19,"minutes":12},"type":"temporal"},"y":{"datum":40.0393,"type":"quantitative"}}},
{"data":{"values":[{}]},"mark":{"type":"text","fontSize":8,"align":"center","baseline":"middle","color":"#ffffff"},"encoding":{"x":{"datum":{"year":2022,"month":4,"date":10,"hours":19,"minutes":12},"type":"temporal"},"y":{"datum":40.0393,"type":"quantitative"},"text":{"value":"40.0393"}}},
{"data":{"values":[{}]},"mark":{"type":"text","align":"left","baseline":"middle","fontSize":8,"color":"#444444"},"encoding":{"x":{"datum":{"year":2022,"month":2,"date":6,"hours":6,"minutes":7},"type":"temporal"},"y":{"datum":98.1,"type":"quantitative"},"text":{"value":"RSI (9)"}}},
{"data":{"values":[{}]},"mark":{"type":"text","align":"left","baseline":"middle","font":"DejaVu Sans","fontSize":7,"color":"#bbbbbb"},"encoding":{"x":{"datum":{"year":2022,"month":2,"date":7,"hours":21,"minutes":53},"type":"temporal"},"y":{"datum":98.1,"type":"quantitative"},"text":{"value":"▾"}}},
{"data":{"values":[{}]},"mark":{"type":"text","align":"left","baseline":"middle","font":"DejaVu Sans","fontSize":9,"color":"#dadada"},"encoding":{"x":{"datum":{"year":2022,"month":2,"date":8,"hours":14,"minutes":43},"type":"temporal"},"y":{"datum":98.1,"type":"quantitative"},"text":{"value":"■■■"}}},
{"data":{"values":[{}]},"mark":{"type":"text","align":"left","baseline":"middle","fontSize":8,"color":"#9b2fae"},"encoding":{"x":{"datum":{"year":2022,"month":2,"date":11,"hours":2,"minutes":22},"type":"temporal"},"y":{"datum":98.1,"type":"quantitative"},"text":{"value":"40.0393"}}}
]
}
]
}
